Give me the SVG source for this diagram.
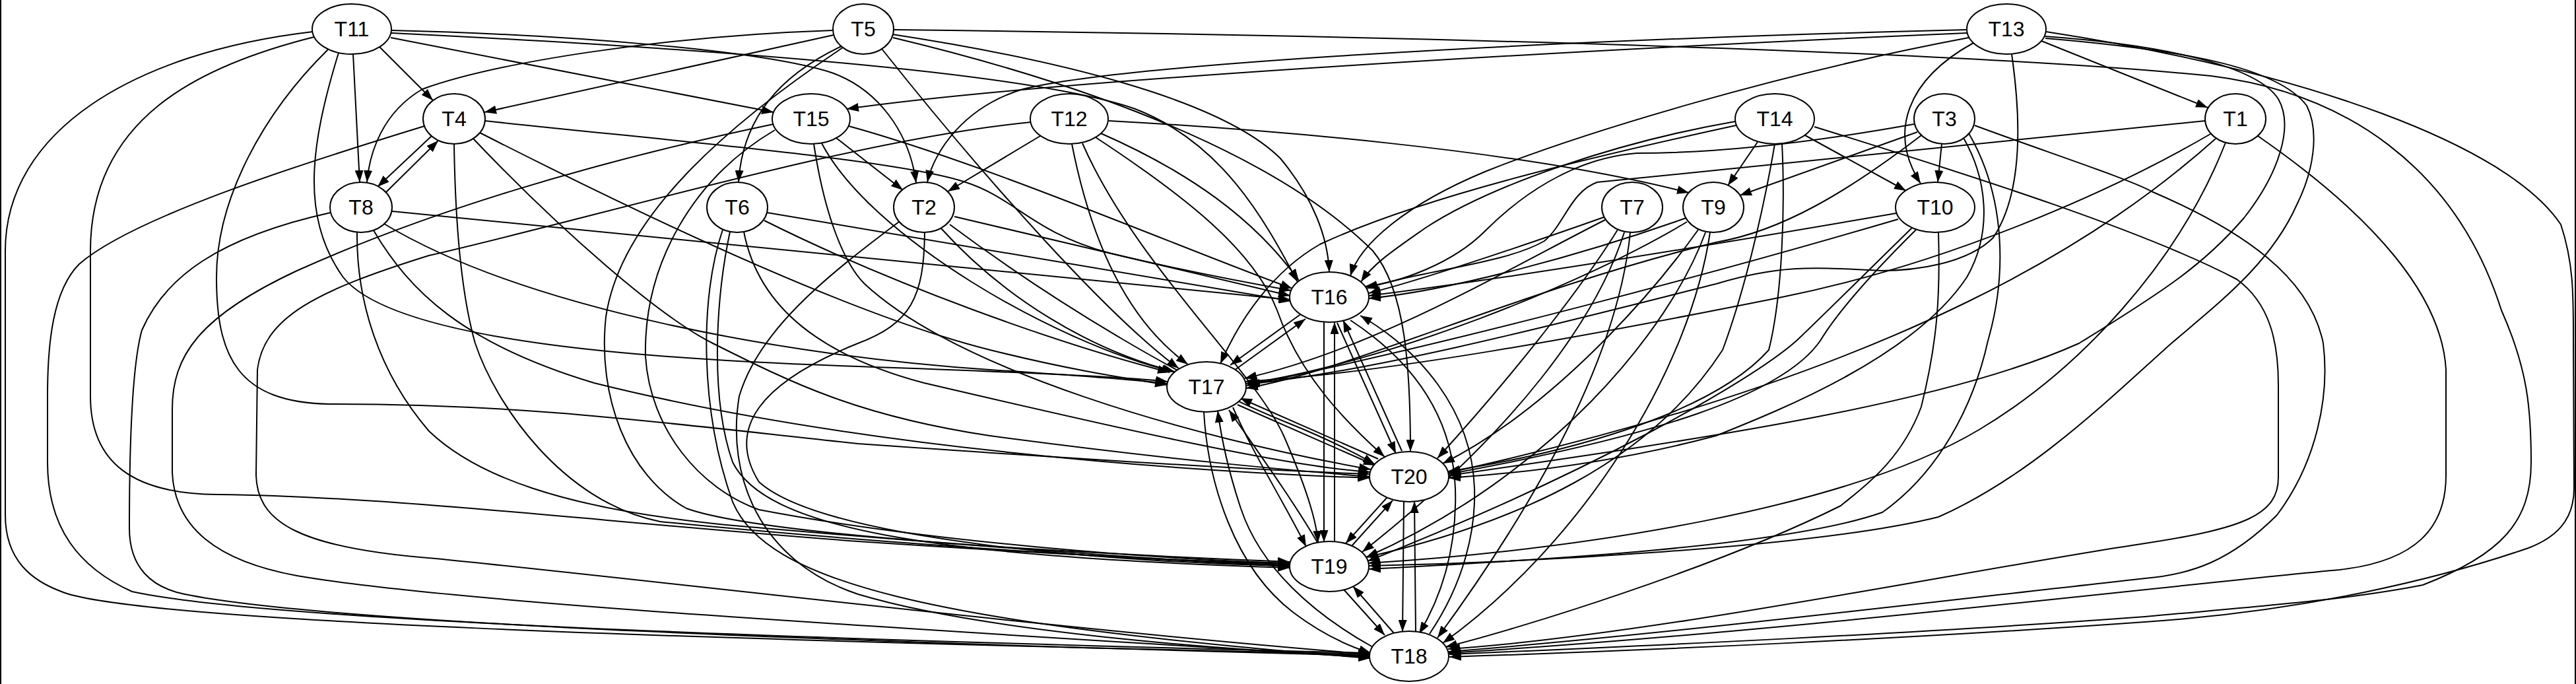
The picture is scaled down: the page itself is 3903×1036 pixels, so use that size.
<svg xmlns="http://www.w3.org/2000/svg" width="3903" height="1036" viewBox="0 0 3903 1036">
<defs>
<marker id="ah" markerUnits="userSpaceOnUse" markerWidth="18" markerHeight="13" viewBox="0 0 18 13" refX="18" refY="6.5" orient="auto"><path d="M0,0L18,6.5L0,13Z" fill="#000"/></marker>
</defs>
<style>
.e{fill:none;stroke:#000;stroke-width:2;marker-end:url(#ah)}
.n ellipse{fill:#fff;stroke:#000;stroke-width:2}
.n text{font-family:"Liberation Sans",Arial,sans-serif;font-size:32px;text-anchor:middle;fill:#000}
</style>
<rect width="3903" height="1036" fill="#fff"/>
<line x1="1" y1="0" x2="1" y2="1036" stroke="#000" stroke-width="2"/>
<line x1="3902" y1="0" x2="3902" y2="1036" stroke="#000" stroke-width="2"/>
<g id="edges">
<path class="e" d="M575,71 L656,152"/>
<path class="e" d="M535,82 L545,276"/>
<path class="e" d="M592,57 L1172,170"/>
<path class="e" d="M593,46 C850,52 1150,75 1260,110 C1330,135 1378,200 1388,277"/>
<path class="e" d="M593,50 C1000,70 1550,105 1720,165 C1850,215 1915,330 1966,427"/>
<path class="e" d="M513,80 C470,220 455,330 520,420 C600,520 1000,545 1300,555 C1500,562 1700,570 1769,578"/>
<path class="e" d="M497,75 C400,170 328,300 328,420 C328,540 360,610 500,612 C800,612 1000,640 1300,672 C1700,700 1950,714 2076,718"/>
<path class="e" d="M476,56 C300,100 137,180 137,380 L137,600 C137,700 200,748 330,749 C600,752 900,790 1300,820 C1600,840 1850,852 1954,854"/>
<path class="e" d="M474,48 C200,80 8,200 8,380 L8,780 C8,850 50,880 93,896 C200,940 1000,968 2076,991"/>
<path class="e" d="M1263,53 L734,170"/>
<path class="e" d="M1262,46 C1000,55 750,95 640,135 C580,170 560,230 556,276"/>
<path class="e" d="M1275,70 C1180,115 1125,180 1119,276"/>
<path class="e" d="M1336,74 C1500,280 1680,480 1786,558"/>
<path class="e" d="M1352,52 C1600,90 1850,150 1940,240 C1990,300 2012,360 2014,412"/>
<path class="e" d="M1353,57 C1700,140 1950,250 2080,380 C2130,440 2137,560 2137,684"/>
<path class="e" d="M1277,72 C1100,190 940,330 918,480 C905,600 950,720 1040,770 C1150,810 1600,837 1954,851"/>
<path class="e" d="M1354,45 C2200,55 3000,80 3350,115 C3550,140 3720,250 3790,470 C3830,560 3835,620 3835,700 C3835,790 3790,840 3671,886 C3550,910 3400,920 3250,934 C2900,960 2500,978 2196,991"/>
<path class="e" d="M2980,50 C2400,75 1600,120 1283,165"/>
<path class="e" d="M2980,45 C2300,62 1700,98 1550,135 C1460,162 1415,230 1405,276"/>
<path class="e" d="M2983,57 C2700,110 2400,200 2250,260 C2130,310 2060,370 2046,418"/>
<path class="e" d="M2990,65 C2890,120 2860,200 2910,278"/>
<path class="e" d="M3093,62 L3345,163"/>
<path class="e" d="M3048,82 C3065,200 3060,300 3020,360 C2980,400 2900,410 2850,410 C2750,405 2700,400 2600,430 C2400,480 2100,560 1891,582"/>
<path class="e" d="M3098,55 C3280,68 3420,100 3452,150 C3475,190 3455,260 3400,330 C3340,400 3280,440 3150,520 C2950,610 2600,662 2196,720"/>
<path class="e" d="M3099,58 C3300,75 3450,100 3495,160 C3515,200 3505,260 3480,310 C3440,400 3360,460 3290,520 C3200,600 3080,720 2937,783 C2750,830 2300,852 2074,857"/>
<path class="e" d="M3100,48 C3500,110 3800,220 3880,340 C3900,400 3899,450 3899,520 L3900,740 C3900,790 3870,815 3831,830 C3700,875 3500,925 3250,942 C2900,967 2500,985 2196,995"/>
<path class="e" d="M655,205 L572,283"/>
<path class="e" d="M585,291 L664,213"/>
<path class="e" d="M735,183 C1000,212 1350,240 1460,275 C1540,300 1560,350 1680,383 C1800,412 1900,430 1956,440"/>
<path class="e" d="M727,201 C1000,340 1300,480 1500,530 C1620,560 1700,572 1768,583"/>
<path class="e" d="M717,210 C850,350 1000,480 1080,520 C1200,580 1300,630 1500,660 C1800,700 1980,714 2075,722"/>
<path class="e" d="M688,218 C690,350 700,450 720,520 C750,610 850,760 1000,790 C1300,820 1700,847 1954,856"/>
<path class="e" d="M643,191 C450,250 200,330 120,400 C80,440 72,520 72,600 L72,700 C72,800 120,860 200,896 C400,940 1200,968 2076,989"/>
<path class="e" d="M594,320 L1955,454"/>
<path class="e" d="M582,339 C800,470 1200,540 1500,560 C1650,570 1720,575 1768,581"/>
<path class="e" d="M566,349 C620,440 700,520 900,580 C1300,680 1800,714 2075,724"/>
<path class="e" d="M541,352 C540,450 570,560 650,653 C720,720 850,770 1100,795 C1500,830 1800,850 1954,858"/>
<path class="e" d="M501,322 C330,360 250,420 215,500 C198,560 196,700 196,800 C196,860 230,890 280,900 C500,945 1300,973 2076,993"/>
<path class="e" d="M1267,209 L1368,288"/>
<path class="e" d="M1286,191 C1500,250 1800,380 1958,437"/>
<path class="e" d="M1245,217 C1320,360 1600,520 1778,563"/>
<path class="e" d="M1233,218 C1250,330 1280,400 1310,430 C1450,560 1800,662 2077,711"/>
<path class="e" d="M1174,197 C1050,270 975,400 978,540 C985,650 1060,740 1150,772 C1400,820 1750,847 1954,853"/>
<path class="e" d="M1172,188 C900,245 650,320 450,410 C300,480 261,540 261,620 L261,716 C265,800 330,850 450,872 C700,915 1400,953 2076,996"/>
<path class="e" d="M1576,206 L1436,290"/>
<path class="e" d="M1680,183 C1900,195 2300,225 2559,292"/>
<path class="e" d="M1668,202 C1800,260 1900,330 1968,425"/>
<path class="e" d="M1624,218 C1650,350 1700,480 1800,552"/>
<path class="e" d="M1660,208 C1800,300 1900,380 1935,470 C1970,570 2040,640 2098,692"/>
<path class="e" d="M1640,217 C1720,400 1900,560 1945,660 C1980,740 1995,792 1997,822"/>
<path class="e" d="M1562,185 C1300,210 900,330 650,387 C480,440 400,480 390,560 L388,720 C390,790 450,830 660,846 C1000,880 1600,953 2076,991"/>
<path class="e" d="M1162,322 L1956,456"/>
<path class="e" d="M1158,334 C1350,430 1600,520 1772,564"/>
<path class="e" d="M1127,351 C1150,470 1250,540 1400,580 C1700,650 1950,707 2076,715"/>
<path class="e" d="M1106,351 C1085,450 1075,600 1110,700 C1160,800 1400,842 1954,860"/>
<path class="e" d="M1095,348 C1060,450 1060,620 1110,760 C1160,880 1400,943 2076,997"/>
<path class="e" d="M1446,328 L1955,448"/>
<path class="e" d="M1426,346 C1520,450 1650,530 1780,563"/>
<path class="e" d="M1439,340 C1600,460 1800,580 1950,640 C2020,668 2060,690 2083,703"/>
<path class="e" d="M1401,352 C1400,450 1380,490 1300,520 C1150,580 1100,650 1150,730 C1250,820 1700,852 1954,857"/>
<path class="e" d="M1362,336 C1250,420 1150,500 1120,600 C1100,720 1150,850 1300,900 C1500,960 1900,988 2076,994"/>
<path class="e" d="M2663,215 L2618,281"/>
<path class="e" d="M2735,205 L2888,289"/>
<path class="e" d="M2629,184 C2450,215 2260,280 2160,345 C2110,380 2080,400 2062,427"/>
<path class="e" d="M2630,190 C2400,240 2150,300 2000,370 C1930,410 1880,480 1849,551"/>
<path class="e" d="M2689,218 C2670,330 2640,450 2610,530 C2500,700 2300,792 2070,844"/>
<path class="e" d="M2700,218 C2705,320 2700,450 2680,530 C2600,620 2400,682 2194,714"/>
<path class="e" d="M2749,192 C3000,270 3250,350 3389,423 C3440,460 3452,520 3452,583 L3452,723 C3452,780 3400,800 3250,823 C3000,860 2500,963 2194,983"/>
<path class="e" d="M2905,200 L2636,296"/>
<path class="e" d="M2942,218 L2936,276"/>
<path class="e" d="M2900,188 C2750,215 2600,232 2480,232 C2380,240 2300,300 2250,350 C2200,400 2120,428 2068,434"/>
<path class="e" d="M2911,205 C2800,290 2700,350 2600,367 C2300,440 2050,560 1888,588"/>
<path class="e" d="M2975,209 C3010,270 3020,350 2980,420 C2900,540 2700,620 2600,660 C2450,700 2300,717 2195,724"/>
<path class="e" d="M2983,202 C3040,300 3040,420 3012,516 C2990,616 2937,716 2852,776 C2700,830 2300,850 2074,862"/>
<path class="e" d="M2992,190 C3100,230 3231,273 3260,290 C3400,350 3500,420 3520,520 C3530,600 3510,700 3450,780 C3380,850 3320,870 3250,876 C2900,915 2500,963 2195,987"/>
<path class="e" d="M2430,329 C2300,375 2150,425 2074,444"/>
<path class="e" d="M2432,333 C2280,410 2080,530 1886,573"/>
<path class="e" d="M2451,348 C2400,430 2300,560 2178,694"/>
<path class="e" d="M2461,352 C2420,480 2300,650 2064,836"/>
<path class="e" d="M2470,352 C2450,560 2300,800 2178,966"/>
<path class="e" d="M2555,330 C2400,385 2200,440 2074,452"/>
<path class="e" d="M2556,336 C2400,430 2100,550 1888,581"/>
<path class="e" d="M2573,348 C2500,450 2350,620 2186,702"/>
<path class="e" d="M2584,352 C2530,500 2350,720 2070,844"/>
<path class="e" d="M2591,352 C2560,560 2400,820 2186,974"/>
<path class="e" d="M2873,323 C2600,370 2300,420 2074,448"/>
<path class="e" d="M2876,332 C2600,413 2200,520 1888,584"/>
<path class="e" d="M2903,348 C2820,430 2780,480 2758,516 C2700,600 2500,662 2195,718"/>
<path class="e" d="M2897,345 C2800,440 2750,490 2722,516 C2650,580 2400,720 2072,850"/>
<path class="e" d="M2937,352 C2940,450 2935,520 2911,616 C2880,700 2820,740 2789,766 C2600,860 2300,953 2190,980"/>
<path class="e" d="M3341,183 C3000,215 2700,245 2420,276 C2380,290 2370,340 2340,365 C2280,400 2150,410 2070,437"/>
<path class="e" d="M3349,203 C3200,290 2950,400 2700,450 C2400,510 2100,565 1887,578"/>
<path class="e" d="M3357,210 C3200,350 2900,560 2194,716"/>
<path class="e" d="M3372,216 C3300,400 3150,560 3000,650 C2800,770 2400,832 2073,853"/>
<path class="e" d="M3421,206 C3600,330 3700,450 3706,560 L3706,720 C3706,800 3660,850 3545,863 C3300,885 2700,958 2195,989"/>
<path class="e" d="M1972,475 L1864,553"/>
<path class="e" d="M1870,561 L1978,483"/>
<path class="e" d="M2026,489 L2115,687"/>
<path class="e" d="M2124,683 L2035,485"/>
<path class="e" d="M2006,488 L2006,821"/>
<path class="e" d="M2022,821 L2022,488"/>
<path class="e" d="M2046,485 C2130,540 2200,620 2205,740 C2208,840 2180,910 2150,960"/>
<path class="e" d="M2166,960 C2220,880 2236,800 2234,740 C2230,620 2150,530 2061,478"/>
<path class="e" d="M1875,613 L2084,705"/>
<path class="e" d="M2088,695 L1879,603"/>
<path class="e" d="M1868,617 C1900,690 1945,760 1979,828"/>
<path class="e" d="M1997,823 C1960,760 1910,690 1862,621"/>
<path class="e" d="M1824,624 C1830,730 1870,860 1960,928 C2000,958 2040,978 2077,989"/>
<path class="e" d="M2080,980 C1990,930 1910,860 1880,770 C1860,710 1850,660 1845,622"/>
<path class="e" d="M2102,753 L2039,823"/>
<path class="e" d="M2047,828 L2110,758"/>
<path class="e" d="M2127,759 L2125,957"/>
<path class="e" d="M2145,957 L2143,759"/>
<path class="e" d="M2036,893 L2098,962"/>
<path class="e" d="M2112,959 L2050,888"/>
</g>
<g id="T11" class="n"><ellipse cx="533" cy="44" rx="60" ry="38"/><text x="533" y="55">T11</text></g>
<g id="T5" class="n"><ellipse cx="1308" cy="44" rx="46" ry="38"/><text x="1308" y="55">T5</text></g>
<g id="T13" class="n"><ellipse cx="3040" cy="44" rx="60" ry="38"/><text x="3040" y="55">T13</text></g>
<g id="T4" class="n"><ellipse cx="688" cy="180" rx="47" ry="38"/><text x="688" y="191">T4</text></g>
<g id="T15" class="n"><ellipse cx="1229" cy="180" rx="59" ry="38"/><text x="1229" y="191">T15</text></g>
<g id="T12" class="n"><ellipse cx="1620" cy="180" rx="59" ry="38"/><text x="1620" y="191">T12</text></g>
<g id="T14" class="n"><ellipse cx="2689" cy="180" rx="60" ry="38"/><text x="2689" y="191">T14</text></g>
<g id="T3" class="n"><ellipse cx="2946" cy="180" rx="46" ry="38"/><text x="2946" y="191">T3</text></g>
<g id="T1" class="n"><ellipse cx="3387" cy="180" rx="46" ry="38"/><text x="3387" y="191">T1</text></g>
<g id="T8" class="n"><ellipse cx="547" cy="314" rx="47" ry="38"/><text x="547" y="325">T8</text></g>
<g id="T6" class="n"><ellipse cx="1117" cy="314" rx="46" ry="38"/><text x="1117" y="325">T6</text></g>
<g id="T2" class="n"><ellipse cx="1400" cy="314" rx="46" ry="38"/><text x="1400" y="325">T2</text></g>
<g id="T7" class="n"><ellipse cx="2473" cy="314" rx="46" ry="38"/><text x="2473" y="325">T7</text></g>
<g id="T9" class="n"><ellipse cx="2596" cy="314" rx="46" ry="38"/><text x="2596" y="325">T9</text></g>
<g id="T10" class="n"><ellipse cx="2932" cy="314" rx="60" ry="38"/><text x="2932" y="325">T10</text></g>
<g id="T16" class="n"><ellipse cx="2014" cy="450" rx="60" ry="38"/><text x="2014" y="461">T16</text></g>
<g id="T17" class="n"><ellipse cx="1828" cy="586" rx="60" ry="38"/><text x="1828" y="597">T17</text></g>
<g id="T20" class="n"><ellipse cx="2135" cy="722" rx="60" ry="38"/><text x="2135" y="733">T20</text></g>
<g id="T19" class="n"><ellipse cx="2014" cy="858" rx="60" ry="38"/><text x="2014" y="869">T19</text></g>
<g id="T18" class="n"><ellipse cx="2135" cy="994" rx="60" ry="38"/><text x="2135" y="1005">T18</text></g>
</svg>
